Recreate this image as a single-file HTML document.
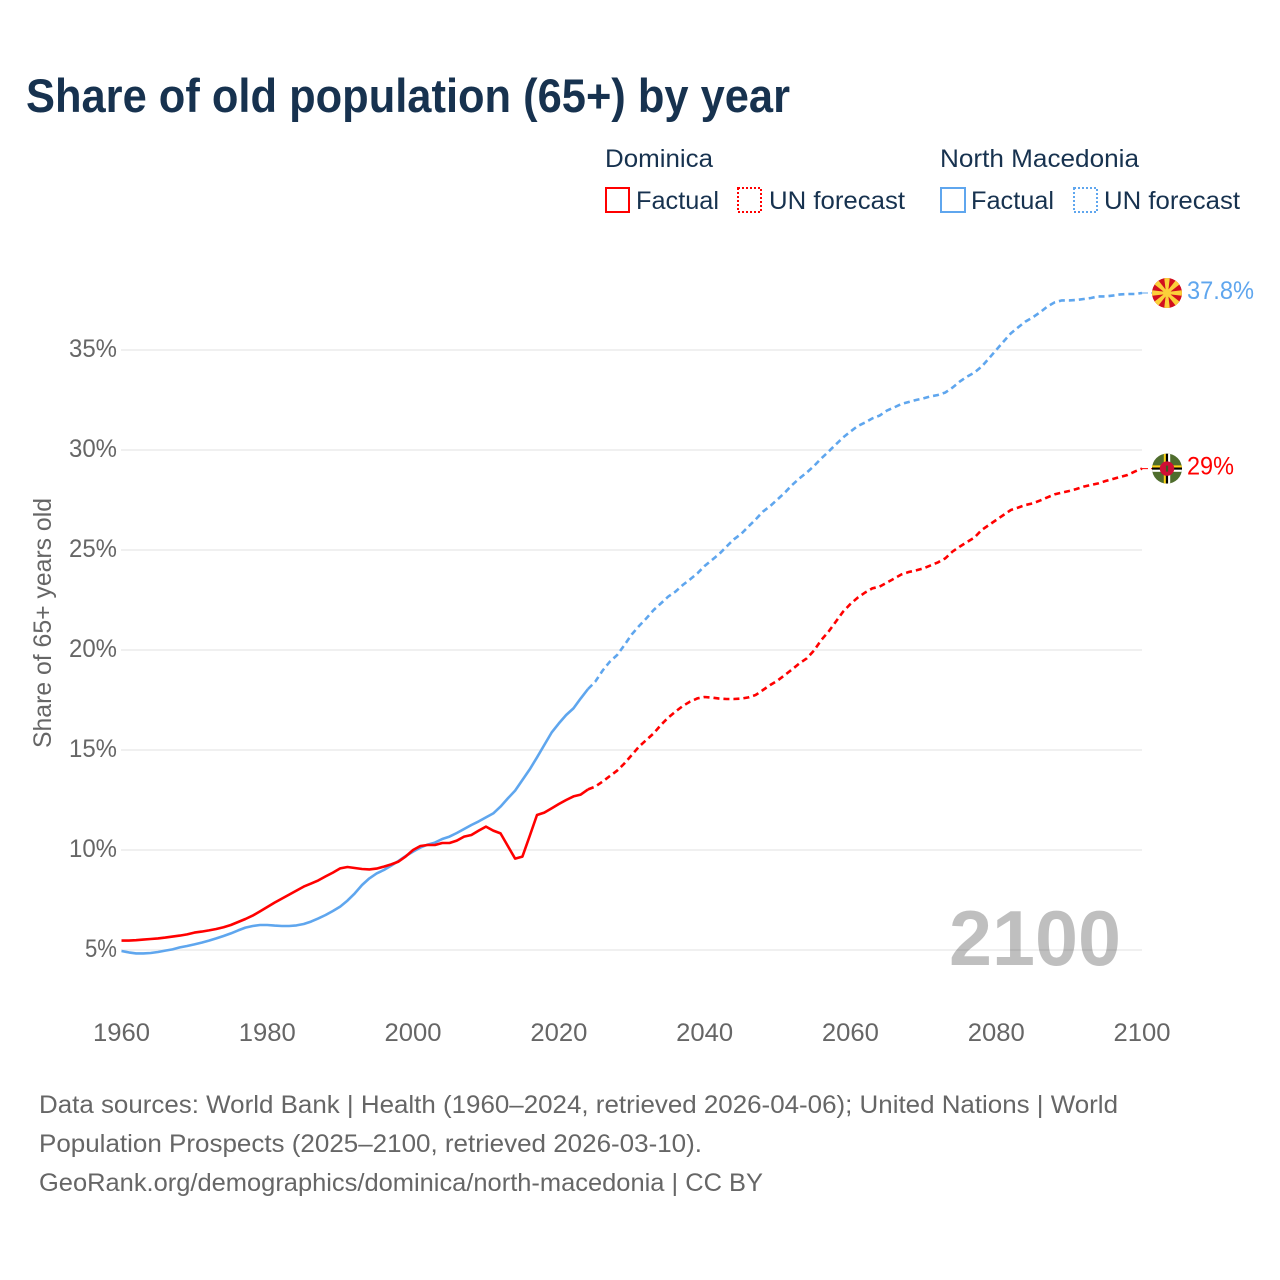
<!DOCTYPE html>
<html lang="en">
<head>
<meta charset="utf-8">
<title>Share of old population (65+) by year</title>
<style>
html,body{margin:0;padding:0;background:#fff;}
svg{display:block;}
text{font-family:"Liberation Sans",sans-serif;}
</style>
</head>
<body>
<svg id="chart" xmlns="http://www.w3.org/2000/svg" width="1280" height="1280" viewBox="0 0 1280 1280">
  <defs>
    <clipPath id="flag-clip"><circle cx="0" cy="0" r="15"/></clipPath>
  </defs>
  <rect x="0" y="0" width="1280" height="1280" fill="#ffffff"/>
  <text x="26" y="112" font-size="47" font-weight="700" fill="#17324f" textLength="764" lengthAdjust="spacingAndGlyphs">Share of old population (65+) by year</text>

  <g font-size="25" fill="#17324f">
    <text x="605" y="167" textLength="108" lengthAdjust="spacingAndGlyphs">Dominica</text>
    <rect x="606" y="188" width="23" height="24" fill="none" stroke="#ff0000" stroke-width="2"/>
    <text x="636" y="209" textLength="83" lengthAdjust="spacingAndGlyphs">Factual</text>
    <rect x="738" y="188" width="23" height="24" fill="none" stroke="#ff0000" stroke-width="2" stroke-dasharray="2 2"/>
    <text x="769" y="209" textLength="136" lengthAdjust="spacingAndGlyphs">UN forecast</text>
    <text x="940" y="167" textLength="199" lengthAdjust="spacingAndGlyphs">North Macedonia</text>
    <rect x="941" y="188" width="24" height="24" fill="none" stroke="#5fa6ee" stroke-width="2"/>
    <text x="971" y="209" textLength="83" lengthAdjust="spacingAndGlyphs">Factual</text>
    <rect x="1074" y="188" width="23" height="24" fill="none" stroke="#5fa6ee" stroke-width="2" stroke-dasharray="2 2"/>
    <text x="1104" y="209" textLength="136" lengthAdjust="spacingAndGlyphs">UN forecast</text>
  </g>

  <g id="grid"></g>
  <g id="y-axis"></g>
  <g id="x-axis"></g>
  <text transform="translate(51,623) rotate(-90)" text-anchor="middle" font-size="25" fill="#666666" textLength="250" lengthAdjust="spacingAndGlyphs">Share of 65+ years old</text>

  <text x="949" y="965" font-size="78" font-weight="700" fill="#000000" fill-opacity="0.25" textLength="172" lengthAdjust="spacingAndGlyphs">2100</text>

  <g id="series"></g>

  <g id="flag-north-macedonia">
    <g clip-path="url(#flag-clip)">
      <rect x="-15" y="-15" width="30" height="30" fill="#d20f1e"/>
      <g fill="#fbd03a">
        <polygon points="-1,0 1,0 2.9,-16 -2.9,-16"/>
        <polygon points="-1,0 1,0 2.9,-16 -2.9,-16" transform="rotate(45)"/>
        <polygon points="-1,0 1,0 2.9,-16 -2.9,-16" transform="rotate(90)"/>
        <polygon points="-1,0 1,0 2.9,-16 -2.9,-16" transform="rotate(135)"/>
        <polygon points="-1,0 1,0 2.9,-16 -2.9,-16" transform="rotate(180)"/>
        <polygon points="-1,0 1,0 2.9,-16 -2.9,-16" transform="rotate(225)"/>
        <polygon points="-1,0 1,0 2.9,-16 -2.9,-16" transform="rotate(270)"/>
        <polygon points="-1,0 1,0 2.9,-16 -2.9,-16" transform="rotate(315)"/>
      </g>
      <circle cx="0" cy="0" r="4" fill="#fbd03a"/>
    </g>
  </g>
  <g id="flag-dominica">
    <g clip-path="url(#flag-clip)">
      <rect x="-15" y="-15" width="30" height="30" fill="#4f6d2d"/>
      <rect x="-3.2" y="-15" width="2.1" height="30" fill="#fcd116"/>
      <rect x="-1.1" y="-15" width="2.2" height="30" fill="#000000"/>
      <rect x="1.1" y="-15" width="2.1" height="30" fill="#ffffff"/>
      <rect x="-15" y="-3.2" width="30" height="2.1" fill="#fcd116"/>
      <rect x="-15" y="-1.1" width="30" height="2.2" fill="#000000"/>
      <rect x="-15" y="1.1" width="30" height="2.1" fill="#ffffff"/>
      <circle cx="0" cy="0" r="7.2" fill="#cf0f35"/>
      <rect x="-1.1" y="-3" width="2.2" height="6" fill="#3c5a20"/>
    </g>
  </g>
  <g id="end-labels"></g>

  <g font-size="25" fill="#666666">
    <text x="39" y="1113" textLength="1079" lengthAdjust="spacingAndGlyphs">Data sources: World Bank | Health (1960–2024, retrieved 2026-04-06); United Nations | World</text>
    <text x="39" y="1152" textLength="663" lengthAdjust="spacingAndGlyphs">Population Prospects (2025–2100, retrieved 2026-03-10).</text>
    <text x="39" y="1191" textLength="724" lengthAdjust="spacingAndGlyphs">GeoRank.org/demographics/dominica/north-macedonia | CC BY</text>
  </g>
</svg>
<script>
const xTickLabels = [1960, 1980, 2000, 2020, 2040, 2060, 2080, 2100];
const yTickValues = [5, 10, 15, 20, 25, 30, 35];
const factualStartYear = 1960;
const forecastStartYear = 2024;

const dominicaFactual = [
  5.47,5.47,5.49,5.52,5.55,5.58,5.62,5.67,5.72,5.78,
  5.87,5.92,5.98,6.05,6.14,6.25,6.4,6.55,6.72,6.93,
  7.15,7.37,7.57,7.77,7.97,8.17,8.32,8.48,8.68,8.87,
  9.08,9.15,9.1,9.05,9.03,9.07,9.17,9.28,9.42,9.68,
  10.0,10.2,10.25,10.25,10.35,10.35,10.47,10.67,10.75,10.97,
  11.17,10.97,10.83,10.2,9.57,9.67,10.7,11.75,11.87,12.08,
  12.3,12.5,12.68,12.77,13.03
];
const dominicaForecast = [
  13.03,13.17,13.42,13.7,13.97,14.33,14.75,15.17,15.5,15.83,
  16.25,16.62,16.92,17.2,17.42,17.58,17.65,17.62,17.57,17.55,
  17.55,17.57,17.63,17.75,18.0,18.25,18.47,18.75,19.03,19.33,
  19.58,19.97,20.5,20.92,21.42,21.92,22.3,22.62,22.87,23.08,
  23.17,23.37,23.57,23.78,23.9,23.98,24.08,24.23,24.38,24.58,
  24.92,25.17,25.4,25.62,26.0,26.25,26.5,26.75,27.0,27.12,
  27.25,27.33,27.47,27.63,27.78,27.87,27.95,28.05,28.17,28.25,
  28.33,28.45,28.55,28.65,28.75,28.92,29.07
];
const macedoniaFactual = [
  4.95,4.88,4.83,4.83,4.85,4.9,4.97,5.03,5.13,5.2,
  5.28,5.37,5.47,5.58,5.7,5.83,5.98,6.12,6.2,6.25,
  6.25,6.22,6.2,6.2,6.23,6.3,6.42,6.58,6.75,6.95,
  7.17,7.47,7.83,8.25,8.58,8.83,9.0,9.22,9.45,9.7,
  9.92,10.12,10.27,10.37,10.55,10.67,10.85,11.05,11.25,11.43,
  11.63,11.83,12.17,12.58,12.97,13.5,14.03,14.63,15.25,15.87,
  16.33,16.75,17.08,17.58,18.05
];
const macedoniaForecast = [
  18.05,18.42,18.97,19.42,19.75,20.25,20.78,21.2,21.58,22.0,
  22.33,22.67,22.92,23.25,23.53,23.83,24.2,24.5,24.8,25.17,
  25.53,25.8,26.17,26.53,26.92,27.2,27.53,27.87,28.25,28.58,
  28.87,29.2,29.58,29.92,30.28,30.63,30.92,31.2,31.37,31.58,
  31.72,31.97,32.13,32.3,32.4,32.5,32.58,32.68,32.75,32.87,
  33.12,33.42,33.67,33.87,34.17,34.58,35.0,35.42,35.83,36.13,
  36.42,36.63,36.88,37.17,37.38,37.48,37.48,37.5,37.55,37.6,
  37.68,37.68,37.72,37.78,37.8,37.8,37.85
];
const dominicaEndLabel = ["29%"];
const macedoniaEndLabel = ["37.8%"];

const SVG_NS = "http://www.w3.org/2000/svg";
const RED = "#ff0000";
const BLUE = "#5fa6ee";
const FLAG_X = 1167;

function xScale(year) { return 121.5 + (year - 1960) * (1142 - 121.5) / 140; }
function yScale(value) { return 950 - (value - 5) * 20; }

function make(tag, attrs, parent, content) {
  const el = document.createElementNS(SVG_NS, tag);
  for (const key in attrs) el.setAttribute(key, attrs[key]);
  if (content !== undefined) el.textContent = content;
  parent.appendChild(el);
  return el;
}

function linePath(values, startYear) {
  return values.map(function (v, i) {
    return (i ? "L" : "M") + xScale(startYear + i).toFixed(2) + " " + yScale(v).toFixed(2);
  }).join(" ");
}

const gridGroup = document.getElementById("grid");
const yAxisGroup = document.getElementById("y-axis");
const xAxisGroup = document.getElementById("x-axis");
const seriesGroup = document.getElementById("series");
const endGroup = document.getElementById("end-labels");

yTickValues.forEach(function (v) {
  const text = v + "%";
  const line = make("line", { x1: 121, x2: 1142, y1: yScale(v), y2: yScale(v), stroke: "#ececec", "stroke-width": 1.6 }, gridGroup);
  
  
  const label = make("text", { x: 117, y: yScale(v) + 7, "text-anchor": "end", "font-size": 25, fill: "#666666", textLength: text.length * 16, lengthAdjust: "spacingAndGlyphs" }, yAxisGroup, text);
  
  
});

xTickLabels.forEach(function (year) {
  const label = make("text", { x: xScale(year), y: 1041, "text-anchor": "middle", "font-size": 25, fill: "#666666", textLength: 57, lengthAdjust: "spacingAndGlyphs" }, xAxisGroup, String(year));
  
  
});

function drawSeries(key, factual, forecast, color) {
  const last = forecast[forecast.length - 1];
  const connector = make("line", { x1: xScale(2100), x2: FLAG_X, y1: yScale(last), y2: yScale(last), stroke: color, "stroke-width": 1, "stroke-dasharray": "6 3" }, seriesGroup);
  
  
  const forecastLine = make("path", { d: linePath(forecast, forecastStartYear), fill: "none", stroke: color, "stroke-width": 2.6, "stroke-dasharray": "6 4" }, seriesGroup);
  
  
  const factualLine = make("path", { d: linePath(factual, factualStartYear), fill: "none", stroke: color, "stroke-width": 2.6, "stroke-linejoin": "round" }, seriesGroup);
  
  
  return last;
}

const macedoniaLast = drawSeries("north-macedonia", macedoniaFactual, macedoniaForecast, BLUE);
const dominicaLast = drawSeries("dominica", dominicaFactual, dominicaForecast, RED);

document.getElementById("flag-north-macedonia").setAttribute("transform", "translate(" + FLAG_X + "," + yScale(macedoniaLast) + ")");
document.getElementById("flag-dominica").setAttribute("transform", "translate(" + FLAG_X + "," + yScale(dominicaLast) + ")");

const macedoniaLabel = make("text", { x: 1187, y: yScale(macedoniaLast) + 6, "font-size": 25, fill: BLUE, textLength: 67, lengthAdjust: "spacingAndGlyphs" }, endGroup, macedoniaEndLabel[0]);


const dominicaLabel = make("text", { x: 1187, y: yScale(dominicaLast) + 6, "font-size": 25, fill: RED, textLength: 47, lengthAdjust: "spacingAndGlyphs" }, endGroup, dominicaEndLabel[0]);


</script>
</body>
</html>
